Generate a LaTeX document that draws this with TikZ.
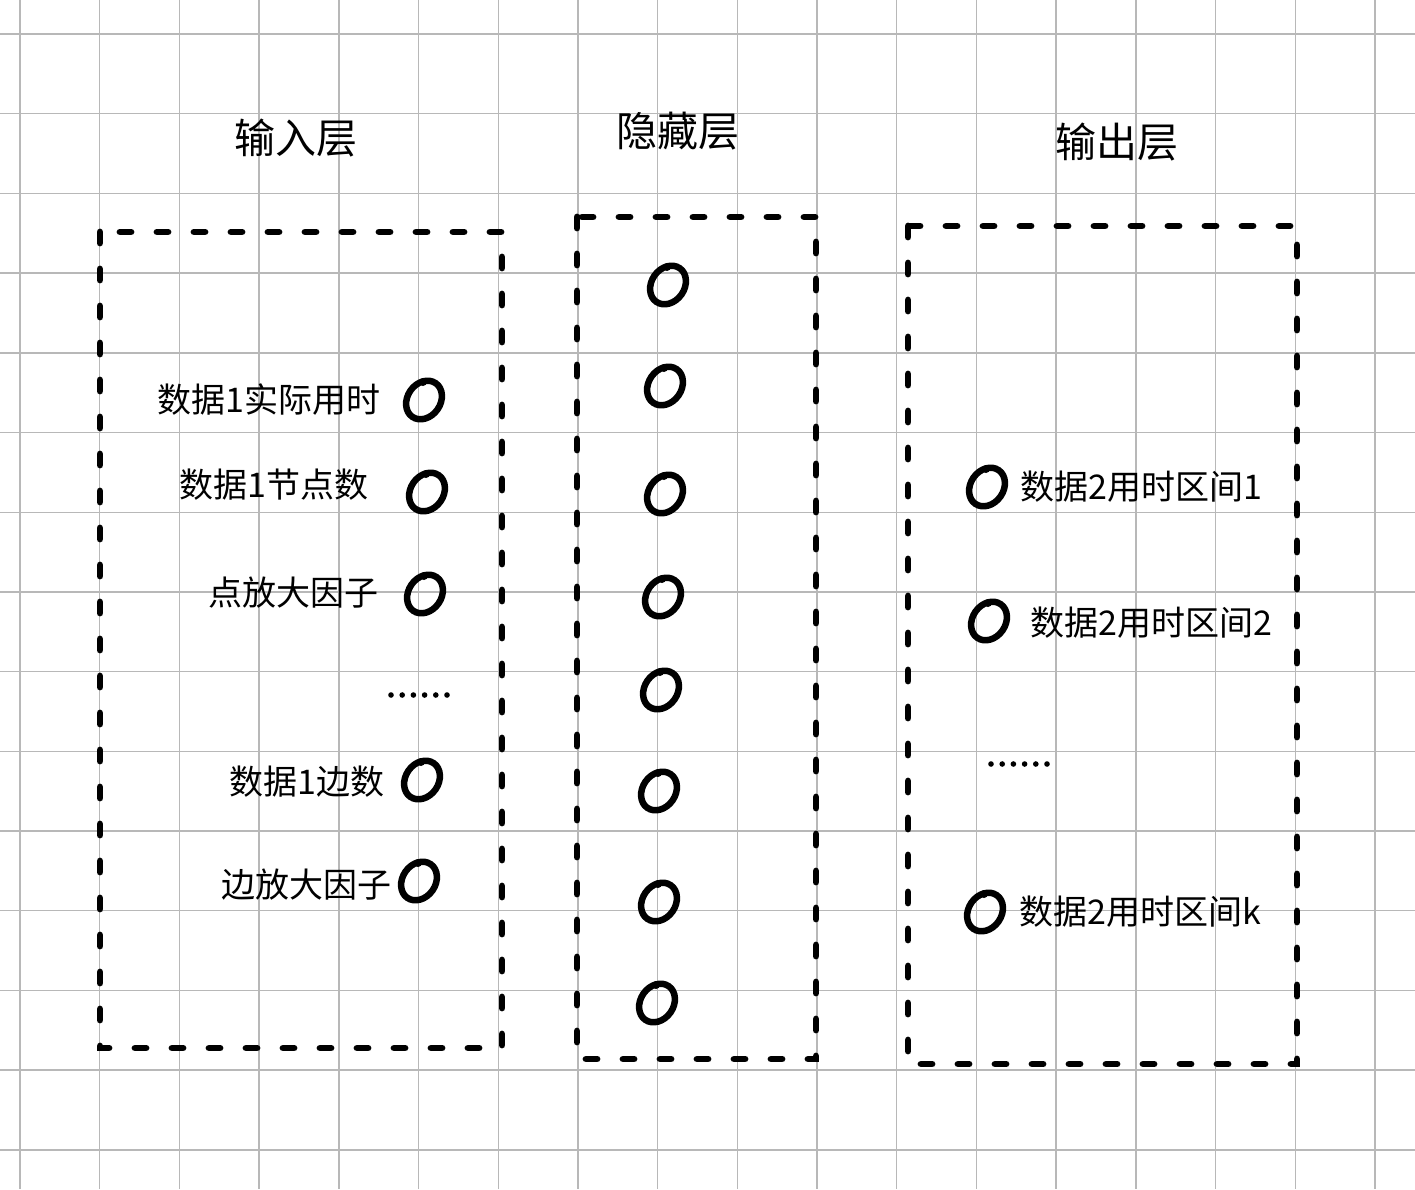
\documentclass[tikz,border=0pt]{standalone}
\usepackage{fontspec}
\newfontfamily\cjk{Noto Sans CJK SC}
\begin{document}
\begin{tikzpicture}[x=1pt,y=-1pt,
  gridline/.style={draw=black!28, line width=1.4pt},
  layerbox/.style={draw=black, line width=6.8pt, line cap=round, dash pattern=on 11pt off 26pt},
  title/.style={inner sep=0pt, font=\cjk\fontsize{41}{48}\selectfont},
  lbl/.style={inner sep=0pt, font=\cjk\fontsize{34}{40}\selectfont},
  blob/.pic={
    \draw[line width=6.5pt, rotate=-35] (0,0) ellipse [x radius=16.5, y radius=20.5];
    \fill (-1,-18) circle (4);
  }]
\useasboundingbox (0,0) rectangle (1415,1189);
\fill[white] (0,0) rectangle (1415,1189);
% grid
\foreach \k in {0,...,17} { \draw[gridline] ({20+79.7*\k},0) -- ({20+79.7*\k},1189); }
\foreach \k in {0,...,14} { \draw[gridline] (0,{34+79.7*\k}) -- (1415,{34+79.7*\k}); }
% boxes
\draw[layerbox] (100,232) rectangle (502,1048);
\draw[layerbox] (577,217) rectangle (816,1059);
\draw[layerbox] (908,226) rectangle (1297,1064);
% titles
\node[title] (tin) at (296,138) {输入层};
\node[title] (thid) at (678,131) {隐藏层};
\node[title] (tout) at (1117,142) {输出层};
% input labels
\node[lbl] (i1) at (269,400) {数据1实际用时};
\node[lbl] (i2) at (274,485) {数据1节点数};
\node[lbl] (i3) at (293,593) {点放大因子};
\node[lbl] (i5) at (307,782) {数据1边数};
\node[lbl] (i6) at (306,885) {边放大因子};
% output labels
\node[lbl] (o1) at (1141,487) {数据2用时区间1};
\node[lbl] (o2) at (1151,623) {数据2用时区间2};
\node[lbl] (o3) at (1140,912) {数据2用时区间k};
% dots
\foreach \j in {0,...,5} {
  \fill ({391+11.2*\j},695) circle (2.8);
  \fill ({991+11.2*\j},764) circle (2.8);
}
% input neurons
\pic at (424,400) {blob};
\pic at (427,492) {blob};
\pic at (425,594) {blob};
\pic at (422,780) {blob};
\pic at (419,881) {blob};
% hidden neurons
\pic at (668,285) {blob};
\pic at (665,386) {blob};
\pic at (665,494) {blob};
\pic at (663,597) {blob};
\pic at (661,690) {blob};
\pic at (659,791) {blob};
\pic at (659,902) {blob};
\pic at (657,1003) {blob};
% output neurons
\pic at (987,487) {blob};
\pic at (989,621) {blob};
\pic at (985,912) {blob};
\end{tikzpicture}
\end{document}
